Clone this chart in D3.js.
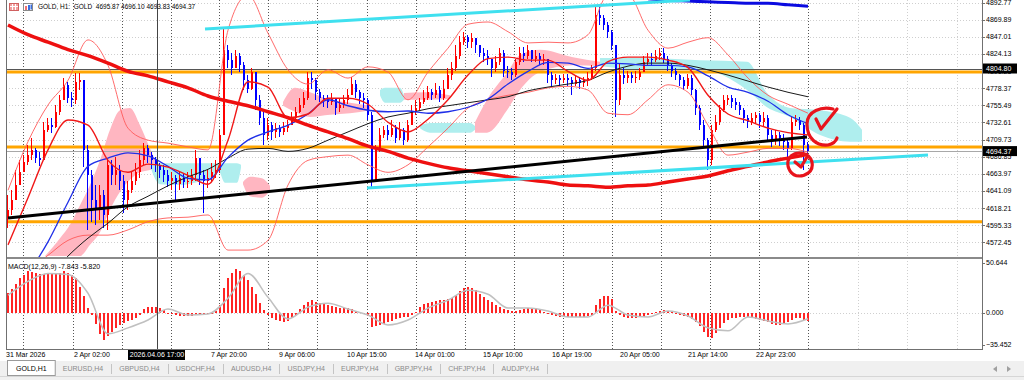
<!DOCTYPE html>
<html>
<head>
<meta charset="utf-8">
<title>GOLD,H1</title>
<script src="https://cdn.jsdelivr.net/npm/d3@7"></script>
<style>
  body { margin: 0; background: #fff; }
  svg { display: block; font-family: "Liberation Sans", Arial, sans-serif; }
</style>
</head>
<body>
<svg width="1024" height="380"></svg>
<script>
// ---- candles (one bar = 2 hours) ----
var firstOpen = 4606;
var closes = [
  4616, 4629, 4649, 4666, 4680, 4689, 4696, 4685, 4682, 4723,
  4729, 4727, 4747, 4763, 4783, 4765, 4763, 4787, 4789, 4696,
  4662, 4629, 4616, 4636, 4609, 4676, 4662, 4669, 4655, 4629,
  4642, 4655, 4666, 4682, 4698, 4689, 4682, 4676, 4669, 4662,
  4655, 4658, 4651, 4658, 4653, 4655, 4662, 4685, 4662, 4655,
  4658, 4666, 4669, 4716, 4829, 4816, 4805, 4822, 4809, 4789,
  4778, 4800, 4763, 4738, 4716, 4729, 4720, 4725, 4720, 4725,
  4729, 4738, 4746, 4756, 4765, 4792, 4789, 4773, 4765, 4763,
  4760, 4765, 4752, 4756, 4763, 4769, 4784, 4773, 4766, 4763,
  4742, 4653, 4696, 4716, 4722, 4716, 4725, 4712, 4722, 4709,
  4729, 4746, 4752, 4760, 4765, 4773, 4769, 4776, 4765, 4778,
  4796, 4805, 4822, 4840, 4847, 4840, 4845, 4836, 4826, 4822,
  4818, 4805, 4813, 4826, 4802, 4800, 4796, 4813, 4826, 4822,
  4829, 4818, 4822, 4816, 4818, 4796, 4789, 4792, 4789, 4792,
  4789, 4784, 4789, 4785, 4789, 4792, 4805, 4876, 4872, 4863,
  4853, 4836, 4763, 4796, 4792, 4796, 4792, 4794, 4800, 4813,
  4818, 4816, 4822, 4826, 4818, 4809, 4802, 4796, 4789, 4782,
  4792, 4776, 4752, 4729, 4709, 4682, 4722, 4733, 4749, 4763,
  4766, 4760, 4756, 4749, 4738, 4733, 4738, 4742, 4733, 4738,
  4716, 4709, 4716, 4712, 4706, 4698, 4733, 4736, 4729, 4702,
  4694.37
];
var highs = [
  4636, 4642, 4669, 4682, 4689, 4702, 4712, 4699, 4693, 4733,
  4739, 4739, 4756, 4769, 4792, 4787, 4773, 4799, 4799, 4789,
  4702, 4669, 4649, 4649, 4642, 4685, 4682, 4686, 4676, 4662,
  4655, 4666, 4678, 4696, 4705, 4703, 4693, 4686, 4679, 4676,
  4669, 4666, 4662, 4666, 4665, 4666, 4671, 4696, 4685, 4669,
  4669, 4678, 4682, 4722, 4859, 4836, 4826, 4829, 4826, 4813,
  4796, 4805, 4796, 4769, 4749, 4738, 4733, 4732, 4729, 4733,
  4736, 4746, 4753, 4765, 4773, 4800, 4800, 4792, 4778, 4769,
  4769, 4772, 4763, 4765, 4769, 4778, 4793, 4789, 4776, 4772,
  4765, 4746, 4702, 4725, 4728, 4729, 4736, 4729, 4733, 4725,
  4736, 4756, 4763, 4766, 4776, 4781, 4778, 4786, 4782, 4789,
  4805, 4813, 4836, 4848, 4853, 4849, 4852, 4845, 4836, 4832,
  4829, 4816, 4822, 4832, 4829, 4808, 4805, 4818, 4834, 4834,
  4836, 4829, 4829, 4826, 4824, 4818, 4800, 4798, 4796, 4797,
  4797, 4794, 4796, 4793, 4794, 4800, 4810, 4887, 4887, 4876,
  4867, 4856, 4816, 4812, 4805, 4802, 4800, 4802, 4806, 4821,
  4826, 4826, 4829, 4832, 4832, 4822, 4812, 4805, 4798, 4794,
  4798, 4796, 4778, 4756, 4736, 4712, 4729, 4742, 4756, 4769,
  4770, 4769, 4765, 4760, 4752, 4742, 4745, 4746, 4745, 4746,
  4742, 4722, 4722, 4720, 4717, 4709, 4740, 4742, 4740, 4732,
  4706
];
var lows = [
  4592, 4609, 4629, 4649, 4666, 4676, 4682, 4678, 4674, 4682,
  4720, 4719, 4725, 4743, 4763, 4759, 4753, 4757, 4776, 4673,
  4589, 4599, 4596, 4602, 4592, 4589, 4649, 4649, 4642, 4611,
  4615, 4639, 4649, 4658, 4676, 4679, 4671, 4666, 4658, 4653,
  4646, 4642, 4629, 4642, 4645, 4645, 4649, 4655, 4649, 4611,
  4645, 4653, 4658, 4665, 4716, 4805, 4796, 4805, 4800, 4776,
  4772, 4776, 4749, 4729, 4702, 4709, 4709, 4712, 4713, 4716,
  4720, 4729, 4736, 4745, 4752, 4763, 4778, 4763, 4760, 4753,
  4752, 4756, 4742, 4746, 4752, 4758, 4769, 4765, 4757, 4752,
  4736, 4645, 4658, 4693, 4712, 4709, 4713, 4705, 4709, 4702,
  4706, 4729, 4742, 4749, 4758, 4763, 4763, 4765, 4760, 4763,
  4778, 4789, 4802, 4818, 4836, 4832, 4832, 4826, 4820, 4813,
  4809, 4793, 4800, 4809, 4794, 4792, 4789, 4794, 4809, 4813,
  4818, 4813, 4813, 4809, 4810, 4786, 4782, 4784, 4782, 4785,
  4781, 4769, 4781, 4778, 4780, 4782, 4789, 4802, 4863, 4856,
  4845, 4829, 4740, 4756, 4784, 4786, 4785, 4786, 4789, 4800,
  4809, 4808, 4813, 4816, 4812, 4802, 4794, 4789, 4781, 4776,
  4778, 4769, 4742, 4722, 4698, 4669, 4676, 4720, 4729, 4746,
  4756, 4752, 4749, 4742, 4732, 4725, 4729, 4732, 4725, 4728,
  4706, 4700, 4702, 4701, 4696, 4686, 4696, 4728, 4722, 4669,
  4688
];

// ---- indicator lines, one value every 5 bars ----
var indStep = 5;
var maSlow = [4863, 4850, 4840, 4830, 4822, 4812, 4801, 4795, 4787, 4779, 4768, 4761, 4755, 4747, 4739, 4729, 4720, 4711, 4701, 4694, 4685,
  4678, 4672, 4668, 4664, 4660, 4656, 4653, 4649, 4648, 4646, 4648, 4649, 4653, 4657, 4661, 4668, 4674, 4680, 4685, 4690];
var maMid = [null, null, 4525, 4554, 4578, 4598, 4620, 4634, 4648, 4660, 4670, 4685, 4697, 4698, 4694, 4698, 4709, 4720, 4731, 4740, 4745,
  4751, 4755, 4759, 4763, 4767, 4775, 4780, 4784, 4789, 4800, 4808, 4812, 4812, 4809, 4803, 4796, 4788, 4780, 4773, 4767];
var maFast = [null, 4530, 4573, 4626, 4674, 4685, 4692, 4688, 4674, 4658, 4656, 4686, 4709, 4720, 4729, 4744, 4763, 4755, 4749, 4747, 4748,
  4745, 4747, 4753, 4764, 4784, 4801, 4813, 4812, 4805, 4812, 4811, 4809, 4809, 4807, 4795, 4780, 4773, 4761, 4743, 4731];
var bbMid = [4569, 4632, 4696, 4736, 4729, 4682, 4666, 4677, 4673, 4662, 4650, 4709, 4787, 4780, 4739, 4744, 4765, 4765, 4757, 4733, 4720,
  4737, 4763, 4796, 4818, 4820, 4816, 4816, 4801, 4789, 4814, 4820, 4820, 4816, 4806, 4769, 4744, 4735, 4725, 4719, 4716];
var bbUp = [4642, 4707, 4756, 4789, 4843, 4809, 4725, 4709, 4705, 4700, 4696, 4856, 4903, 4852, 4803, 4784, 4803, 4792, 4807, 4800, 4763,
  4800, 4832, 4864, 4867, 4854, 4839, 4840, 4839, 4850, 4903, 4903, 4856, 4832, 4840, 4846, 4823, 4792, 4769, 4757, 4745];
var bbLow = [4520, 4535, 4555, 4575, 4582, 4582, 4589, 4600, 4605, 4606, 4609, 4562, 4562, 4575, 4649, 4682, 4687, 4689, 4676, 4666, 4676,
  4700, 4725, 4752, 4763, 4769, 4773, 4779, 4781, 4776, 4745, 4743, 4763, 4783, 4773, 4729, 4689, 4693, 4698, 4698, 4693];
var maLong = [null, null, null, null, null, null, null, null, null, null, null, null, null, null, null, null, null, null, null, null, null,
  null, null, null, null, null, null, null, null, null, null, null, 4898, 4896, 4895, 4894, 4893, 4892, 4892, 4890, 4888];

// ---- ichimoku cloud patches: [bar, upper, lower] ----
var kumoPink = [
  [[9.25, 4554, 4554], [13, 4578, 4554], [15.5, 4596, 4554], [18, 4622, 4554], [20.5, 4649, 4569], [23, 4682, 4586], [25.5, 4723, 4616],
   [28, 4749, 4640], [30.5, 4752, 4656], [33, 4729, 4666], [35.5, 4698, 4669], [37.5, 4674, 4672]],
  [[58.75, 4653, 4650], [60.5, 4660, 4634], [63.5, 4658, 4632], [65.5, 4648, 4642]],
  [[68.75, 4760, 4755], [71.75, 4779, 4747], [75.5, 4773, 4740], [80.5, 4763, 4743], [85.5, 4759, 4745], [90.5, 4755, 4749]],
  [[99, 4772, 4763], [104.25, 4773, 4763], [110.5, 4769, 4764]],
  [[116.75, 4733, 4719], [119.75, 4763, 4719], [124.75, 4799, 4749], [128, 4823, 4776], [133, 4830, 4800], [141.25, 4820, 4809], [148, 4814, 4808]]
];
var kumoCyan = [
  [[35.5, 4677, 4674], [38, 4678, 4650], [43, 4678, 4649], [48, 4678, 4654], [51.25, 4678, 4660], [52.5, 4678, 4669], [54.25, 4678, 4652],
   [57.25, 4678, 4652], [58.25, 4676, 4672]],
  [[93, 4776, 4769], [94.25, 4779, 4759], [98, 4779, 4759], [99, 4769, 4763]],
  [[103, 4729, 4725], [105.5, 4732, 4719], [115.5, 4732, 4719], [116.75, 4728, 4723]],
  [[148, 4819, 4808], [158, 4819, 4803], [173, 4816, 4803], [184.75, 4814, 4776], [189.75, 4772, 4753], [195.5, 4752, 4740],
   [203, 4749, 4716], [210.5, 4739, 4707], [213.5, 4723, 4707]]
];

// ---- drawn objects ----
var levels = [4800, 4700, 4600];
var trendCyan = [[[49.25, 4857.6], [170.5, 4896.4]], [[89.75, 4645.0], [230, 4689.2]]];
var trendBlack = [[0, 4605.0], [199.75, 4713.2]];
var crossBar = 37.25, crossPrice = 4804.80, crossTime = "2026.04.06 17:00";
var lastPrice = 4694.37;
var checkMarks = [[203.5, 4726.6], [198, 4677.1]];

// ---- MACD(12,26,9) ----
var macdHist = [
  20, 24, 29, 35, 39, 43, 42, 41, 40, 40,
  40, 40, 40, 41, 43, 41, 38, 35, 26, 17,
  5, -2, -11, -21, -27, -23, -19, -15, -12, -10,
  -8, -7, -5, -2, 4, 6, 6, 6, 5, 3,
  0, -1, -2, -3, -3, -3, -3, -2, -2, -2,
  -1, 0, 2, 8, 25, 35, 41, 45, 43, 38,
  33, 26, 19, 10, 3, -2, -5, -7, -8, -9,
  -8, -5, -2, 4, 8, 11, 13, 11, 10, 9,
  8, 7, 6, 5, 5, 5, 4, 2, 1, -1,
  -3, -14, -13, -12, -11, -9, -8, -6, -5, -4,
  -4, -2, 1, 6, 9, 10, 11, 12, 13, 13,
  14, 15, 18, 22, 25, 26, 25, 23, 19, 16,
  13, 11, 8, 6, 4, 3, 2, 2, 3, 4,
  5, 5, 4, 3, 1, -1, -2, -3, -4, -4,
  -4, -4, -4, -4, -4, -3, -2, 8, 14, 17,
  17, 14, 2, -2, -4, -5, -5, -5, -4, -4,
  -2, 0, 1, 2, 3, 2, 1, -1, -2, -3,
  -4, -6, -9, -13, -19, -24, -25, -20, -15, -10,
  -7, -5, -5, -4, -4, -4, -5, -6, -7, -8,
  -9, -11, -12, -12, -11, -9, -7, -5, -5, -7,
  -7.843
];
var macdSignal = [18, 32, 40, 39, 20, -21, -15, -7, 4, -2, -1, 15, 40, 16, -6, 6, 10, 4, -2, -12, -7,
  5, 13, 23, 19, 5, 5, 2, -4, -4, 8, -2, -4, 2, -3, -15, -18, -4, -8, -11, -5.82];
var macdTicks = [50.644, 0, -35.452];

// ---- axes / labels ----
var priceTicks = [4892.77, 4869.89, 4847.01, 4824.13, 4801.25, 4778.37, 4755.49, 4732.61, 4709.73, 4686.85, 4663.97, 4641.09, 4618.21, 4595.33, 4572.45];
var timeLabels = ["31 Mar 2026", "2 Apr 02:00", "7 Apr 20:00", "9 Apr 06:00", "10 Apr 15:00", "14 Apr 01:00", "15 Apr 10:00",
  "16 Apr 19:00", "20 Apr 05:00", "21 Apr 14:00", "22 Apr 23:00"];
var timeLabelBars = [-0.5, 16.5, 50.75, 67.75, 84.75, 101.75, 118.75, 136, 153, 170, 187];
var daySeparators = [3.8, 16.2, 28.4, 40.7, 52.8, 65.1, 77.3, 89.7, 101.9, 114.25, 126.4, 138.7, 151, 163.3, 175.6, 187.8, 200];
var futureGrid = [212.5, 224.75, 237.25];
var tabs = ["GOLD,H1", "EURUSD,H4", "GBPUSD,H4", "USDCHF,H4", "AUDUSD,H4", "USDJPY,H4", "EURJPY,H4", "GBPJPY,H4", "CHFJPY,H4", "AUDJPY,H4"];
var header = "GOLD, H1:  GOLD  4695.87 4696.10 4693.83 4694.37";
var macdTitle = "MACD(12,26,9) -7.843 -5.820";

// ================= drawing =================
var svg = d3.select("svg"),
    W = 1024, H = 380;
var plotL = 6, plotR = 982, mainBot = 256, macdTop = 259, macdBot = 349;

var x = d3.scaleLinear().domain([0, 200]).range([8, 808]);
var y = d3.scaleLinear().domain([4554.1, 4896.4]).range([mainBot, 0]);
var ym = d3.scaleLinear().domain([-36.4, 54.7]).range([macdBot, macdTop]);
var px = function(v) { return Math.round(v) + 0.5; };

svg.append("rect").attr("width", W).attr("height", H).attr("fill", "#fff");

var defs = svg.append("defs");
defs.append("clipPath").attr("id", "clipMain").append("rect")
    .attr("x", plotL).attr("y", 0).attr("width", plotR - plotL).attr("height", 257);
defs.append("clipPath").attr("id", "clipMacd").append("rect")
    .attr("x", plotL).attr("y", macdTop).attr("width", plotR - plotL).attr("height", macdBot - macdTop);

// grid
var grid = svg.append("g").attr("fill", "none");
grid.selectAll(".hg").data(priceTicks).enter().append("line")
    .attr("x1", plotL).attr("x2", plotR)
    .attr("y1", function(d) { return px(y(d)); }).attr("y2", function(d) { return px(y(d)); })
    .attr("stroke", "#cfcfcf").attr("stroke-dasharray", "1,2");
grid.append("line")
    .attr("x1", plotL).attr("x2", plotR).attr("y1", px(ym(0))).attr("y2", px(ym(0)))
    .attr("stroke", "#cfcfcf").attr("stroke-dasharray", "1,2");
grid.selectAll(".vg").data(futureGrid).enter().append("line")
    .attr("x1", function(d) { return px(x(d)); }).attr("x2", function(d) { return px(x(d)); })
    .attr("y1", 0).attr("y2", macdBot)
    .attr("stroke", "#cfcfcf").attr("stroke-dasharray", "1,2");
grid.selectAll(".sep").data(daySeparators).enter().append("line")
    .attr("x1", function(d) { return px(x(d)); }).attr("x2", function(d) { return px(x(d)); })
    .attr("y1", 0).attr("y2", macdBot)
    .attr("stroke", "#555").attr("stroke-dasharray", "1,2");

// main pane
var main = svg.append("g").attr("clip-path", "url(#clipMain)");

var kumoArea = d3.area()
    .x(function(d) { return x(d[0]); })
    .y0(function(d) { return y(d[2]); })
    .y1(function(d) { return y(d[1]); })
    .curve(d3.curveMonotoneX);
main.selectAll(".kp").data(kumoPink).enter().append("path")
    .attr("d", kumoArea).attr("fill", "#ffb6c1");
main.selectAll(".kc").data(kumoCyan).enter().append("path")
    .attr("d", kumoArea).attr("fill", "#afeeee");

// horizontal levels
main.selectAll(".lvl").data(levels).enter().append("line")
    .attr("x1", plotL).attr("x2", plotR)
    .attr("y1", function(d) { return y(d); }).attr("y2", function(d) { return y(d); })
    .attr("stroke", "#ffa500").attr("stroke-width", 3);
main.append("line")
    .attr("x1", plotL).attr("x2", plotR).attr("y1", px(y(lastPrice))).attr("y2", px(y(lastPrice)))
    .attr("stroke", "#a8a8a8");
main.append("line")
    .attr("x1", plotL).attr("x2", plotR).attr("y1", px(y(crossPrice))).attr("y2", px(y(crossPrice)))
    .attr("stroke", "#555");

// candles
var bars = closes.map(function(c, i) {
  var o = i ? closes[i - 1] : firstOpen;
  return { i: i, o: o, c: c, h: Math.max(highs[i], o, c), l: Math.min(lows[i], o, c) };
});
var cg = main.append("g").attr("shape-rendering", "crispEdges");
var candle = cg.selectAll("g").data(bars).enter().append("g")
    .attr("fill", function(d) { return d.c >= d.o ? "#ff0000" : "#0000ff"; })
    .attr("stroke", function(d) { return d.c >= d.o ? "#ff0000" : "#0000ff"; });
candle.append("line")
    .attr("x1", function(d) { return Math.round(x(d.i)) - 0.5; })
    .attr("x2", function(d) { return Math.round(x(d.i)) - 0.5; })
    .attr("y1", function(d) { return y(d.h); }).attr("y2", function(d) { return y(d.l); });
candle.append("rect").attr("stroke", "none")
    .attr("x", function(d) { return Math.round(x(d.i)) - 1; }).attr("width", 2)
    .attr("y", function(d) { return y(Math.max(d.o, d.c)); })
    .attr("height", function(d) { return Math.max(1, Math.abs(y(d.o) - y(d.c))); });

// indicator lines
var indLine = d3.line()
    .defined(function(v) { return v != null; })
    .x(function(v, k) { return x(k * indStep); })
    .y(function(v) { return y(v); })
    .curve(d3.curveMonotoneX);
function drawInd(vals, color, w) {
  main.append("path").datum(vals).attr("d", indLine)
      .attr("fill", "none").attr("stroke", color).attr("stroke-width", w).attr("stroke-linejoin", "round");
}
drawInd(bbUp, "#ff5a5a", 0.9);
drawInd(bbLow, "#ff5a5a", 0.9);
drawInd(maMid, "#1a1a1a", 1);
drawInd(maFast, "#1f2fe8", 1.3);
drawInd(bbMid, "#f01818", 1.4);
drawInd(maSlow, "#ee1010", 3.5);
drawInd(maLong, "#0b0be0", 3);

// trend lines
var segLine = d3.line().x(function(d) { return x(d[0]); }).y(function(d) { return y(d[1]); });
main.selectAll(".tc").data(trendCyan).enter().append("path")
    .attr("d", segLine).attr("stroke", "#3fe0ef").attr("stroke-width", 3).attr("fill", "none");
main.append("path").datum(trendBlack).attr("d", segLine)
    .attr("stroke", "#000").attr("stroke-width", 3).attr("fill", "none");

// hand drawn check marks
var ringPaths = [
  "M11,-18C0,-21 -15,-16 -15,-3C-15,12 -5,19 6,18C11,17 14,14 15,11",
  "M-9,-8C-3,-13 9,-12 12,-2C14,8 5,12 -1,12C-9,12 -13,4 -12,-3C-11,-6 -8,-9 -4,-10"
];
var tickPaths = ["M-6,-8L-1,2L15,-18", "M-5,-2L1,3L7,-7"];
checkMarks.forEach(function(m, k) {
  var g = main.append("g").attr("transform", "translate(" + x(m[0]) + "," + y(m[1]) + ")")
      .attr("fill", "none").attr("stroke", "#e8141c").attr("stroke-width", 3.2)
      .attr("stroke-linecap", "round").attr("stroke-linejoin", "round");
  g.append("path").attr("d", ringPaths[k]);
  g.append("path").attr("d", tickPaths[k]);
});

// MACD pane
var macd = svg.append("g").attr("clip-path", "url(#clipMacd)");
macd.append("g").attr("shape-rendering", "crispEdges").selectAll("rect").data(macdHist).enter().append("rect")
    .attr("x", function(v, i) { return Math.round(x(i)) - 1; }).attr("width", 2)
    .attr("y", function(v) { return ym(Math.max(v, 0)); })
    .attr("height", function(v) { return Math.max(1, Math.abs(ym(v) - ym(0))); })
    .attr("fill", "#ff2424");
macd.append("path").datum(macdSignal)
    .attr("d", d3.line().x(function(v, k) { return x(k * indStep); }).y(function(v) { return ym(v); }).curve(d3.curveMonotoneX))
    .attr("fill", "none").attr("stroke", "#c0c0c0").attr("stroke-width", 1.5);

// crosshair vertical
svg.append("line").attr("x1", px(x(crossBar))).attr("x2", px(x(crossBar))).attr("y1", 0).attr("y2", macdBot)
    .attr("stroke", "#444");

// frames
svg.append("rect").attr("x", plotL).attr("y", 257).attr("width", plotR - plotL).attr("height", 2).attr("fill", "#8a8a8a");
var frame = svg.append("g").attr("stroke", "#707070").attr("shape-rendering", "crispEdges");
frame.append("line").attr("x1", 6.5).attr("x2", 6.5).attr("y1", 0).attr("y2", macdBot);
frame.append("line").attr("x1", 982.5).attr("x2", 982.5).attr("y1", 0).attr("y2", macdBot + 1);
frame.append("line").attr("x1", plotL).attr("x2", 983).attr("y1", macdBot + 0.5).attr("y2", macdBot + 0.5);

// right axis
var axisG = svg.append("g").attr("font-size", 7).attr("fill", "#000");
priceTicks.forEach(function(p) {
  axisG.append("line").attr("x1", 982).attr("x2", 985).attr("y1", px(y(p))).attr("y2", px(y(p))).attr("stroke", "#707070");
  axisG.append("text").attr("x", 986).attr("y", y(p)).attr("dy", "0.35em").text(d3.format(".2f")(p));
});
macdTicks.forEach(function(v) {
  var yy = Math.min(ym(v), 345);
  axisG.append("line").attr("x1", 982).attr("x2", 985).attr("y1", px(yy)).attr("y2", px(yy)).attr("stroke", "#707070");
  axisG.append("text").attr("x", 986).attr("y", yy).attr("dy", "0.35em").text(d3.format(".3f")(v));
});
[crossPrice, lastPrice].forEach(function(p) {
  axisG.append("rect").attr("x", 983).attr("y", y(p) - 5).attr("width", 34).attr("height", 10).attr("fill", "#000");
  axisG.append("text").attr("x", 986).attr("y", y(p)).attr("dy", "0.35em").attr("fill", "#fff").text(d3.format(".2f")(p));
});

// time axis
var timeG = svg.append("g").attr("font-size", 7).attr("fill", "#000");
timeLabels.forEach(function(t, k) {
  timeG.append("text").attr("x", x(timeLabelBars[k])).attr("y", 355).attr("dy", "0.35em").text(t);
});
timeG.append("rect").attr("x", x(crossBar) - 29).attr("y", 350).attr("width", 57).attr("height", 10).attr("fill", "#000");
timeG.append("text").attr("x", x(crossBar)).attr("y", 355).attr("dy", "0.35em").attr("text-anchor", "middle")
    .attr("fill", "#fff").text(crossTime);

// headers
var hdr = svg.append("g").attr("font-size", 7).attr("fill", "#000");
hdr.append("rect").attr("x", 9.5).attr("y", 3.5).attr("width", 9).attr("height", 7).attr("fill", "#f2a0a0").attr("stroke", "#d06060");
[12.5, 15.5].forEach(function(v) { hdr.append("line").attr("x1", v).attr("x2", v).attr("y1", 4).attr("y2", 10).attr("stroke", "#fff"); });
hdr.append("line").attr("x1", 10).attr("x2", 18).attr("y1", 6.5).attr("y2", 6.5).attr("stroke", "#fff");
hdr.append("rect").attr("x", 23.5).attr("y", 3.5).attr("width", 9).attr("height", 7).attr("fill", "#fff").attr("stroke", "#8a8a8a");
hdr.append("rect").attr("x", 25).attr("y", 6).attr("width", 2).attr("height", 4).attr("fill", "#f07070");
hdr.append("rect").attr("x", 28).attr("y", 5).attr("width", 2).attr("height", 5).attr("fill", "#3a6ee0");
hdr.append("rect").attr("x", 30.5).attr("y", 4.5).attr("width", 1.5).attr("height", 5).attr("fill", "#3a6ee0");
hdr.append("text").attr("x", 38).attr("y", 7).attr("dy", "0.35em").attr("font-size", 6.5)
    .style("white-space", "pre").text(header);
hdr.append("text").attr("x", 8).attr("y", 267).attr("dy", "0.35em").text(macdTitle);

// tab strip
svg.append("rect").attr("x", 0).attr("y", 361).attr("width", W).attr("height", H - 361).attr("fill", "#f0f0f0");
svg.append("line").attr("x1", 0).attr("x2", W).attr("y1", 376.5).attr("y2", 376.5).attr("stroke", "#d6d6d6");
var tabBg = svg.append("g"), tabTx = svg.append("g").attr("font-size", 7);
var tx = 7;
tabs.forEach(function(name, k) {
  var t = tabTx.append("text").attr("x", tx + 8).attr("y", 369).attr("dy", "0.35em")
      .attr("fill", k === 0 ? "#000" : "#8a8a8a").text(name);
  var w = t.node().getComputedTextLength() + 16;
  if (k === 0) {
    t.attr("x", tx + 9);
    w += 1;
    tabBg.append("rect").attr("x", tx + 0.5).attr("y", 360.5).attr("width", w).attr("height", 15)
        .attr("fill", "#fff").attr("stroke", "#9a9a9a");
  } else {
    tabBg.append("line").attr("x1", px(tx + w)).attr("x2", px(tx + w)).attr("y1", 364).attr("y2", 374).attr("stroke", "#c4c4c4");
  }
  tx += w;
});
svg.append("path").attr("d", "M997,366L993,369L997,372Z").attr("fill", "#a0a0a0");
svg.append("path").attr("d", "M1007,366L1011,369L1007,372Z").attr("fill", "#a0a0a0");
</script>
</body>
</html>
